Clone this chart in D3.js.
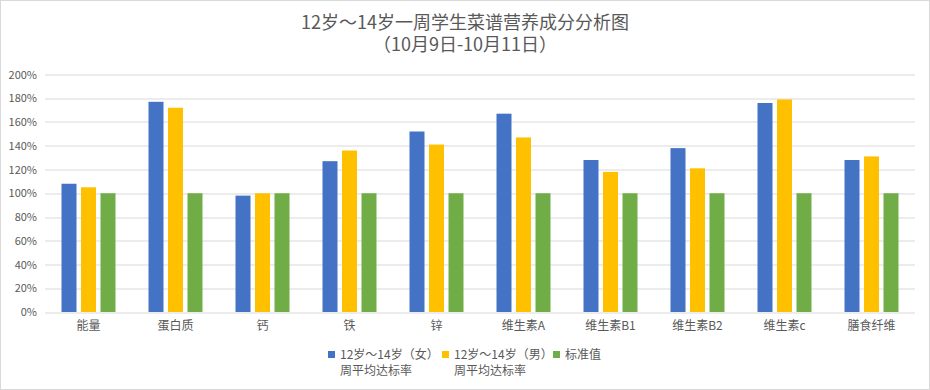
<!DOCTYPE html>
<html>
<head>
<meta charset="utf-8">
<script src="https://cdn.jsdelivr.net/npm/d3@7"></script>
<style>
  body { margin: 0; background: #fff; }
  text { font-family: "Microsoft YaHei", "Noto Sans CJK SC", sans-serif; fill: #595959; }
</style>
</head>
<body>
<div id="chart"></div>
<script>
// chart values
var categories = ["能量", "蛋白质", "钙", "铁", "锌", "维生素A", "维生素B1", "维生素B2", "维生素c", "膳食纤维"];
var girls = [1.08, 1.77, 0.98, 1.27, 1.52, 1.67, 1.28, 1.38, 1.76, 1.28];
var boys = [1.05, 1.72, 1.00, 1.36, 1.41, 1.47, 1.18, 1.21, 1.79, 1.31];
var standard = [1.00, 1.00, 1.00, 1.00, 1.00, 1.00, 1.00, 1.00, 1.00, 1.00];
var yTicks = [0, 0.2, 0.4, 0.6, 0.8, 1.0, 1.2, 1.4, 1.6, 1.8, 2.0];

var seriesNames = ["女", "男", "标准值"];
var colors = ["#4472c4", "#ffc000", "#70ad47"];

var svgWidth = 930;
var svgHeight = 390;

var margin = { top: 74.5, right: 15, bottom: 78, left: 45 };
var width = svgWidth - margin.left - margin.right;
var height = svgHeight - margin.top - margin.bottom;

var svg = d3.select("#chart")
  .append("svg")
  .attr("width", svgWidth)
  .attr("height", svgHeight);

// outer border
svg.append("rect")
  .attr("x", 0.5).attr("y", 0.5)
  .attr("width", svgWidth - 1).attr("height", svgHeight - 1)
  .attr("fill", "#fff")
  .attr("stroke", "#d9d9d9");

// title
var title = svg.append("text")
  .attr("text-anchor", "middle")
  .style("font-size", "18px");
title.append("tspan").attr("x", svgWidth / 2).attr("y", 29)
  .text("12岁～14岁一周学生菜谱营养成分分析图");
title.append("tspan").attr("x", svgWidth / 2).attr("y", 51)
  .text("（10月9日-10月11日）");

var chartGroup = svg.append("g")
  .attr("transform", `translate(${margin.left}, ${margin.top})`);

var xScale = d3.scaleBand()
  .domain(categories)
  .range([0, width]);

var yScale = d3.scaleLinear()
  .domain([0, 2])
  .range([height, 0]);

// bars sit inside each band: 3 bars of 15px with 4.5px gaps
var barW = 15;
var barStep = 19.5;
var groupW = barW * 3 + (barStep - barW) * 2;

// gridlines
chartGroup.append("g")
  .selectAll("line")
  .data(yTicks)
  .enter()
  .append("line")
  .attr("x1", 0)
  .attr("x2", width)
  .attr("y1", d => Math.round(yScale(d)) + 0.5)
  .attr("y2", d => Math.round(yScale(d)) + 0.5)
  .attr("stroke", "#d9d9d9")
  .attr("stroke-width", 1);

// y axis labels
var leftAxis = d3.axisLeft(yScale)
  .tickValues(yTicks)
  .tickFormat(d3.format(".0%"))
  .tickSize(0)
  .tickPadding(8);

var yAxis = chartGroup.append("g").call(leftAxis);
yAxis.select(".domain").remove();
yAxis.selectAll("text")
  .style("font-size", "11px")
  .style("font-family", "\"Microsoft YaHei\", \"Noto Sans CJK SC\", sans-serif")
  .attr("fill", "#595959");

// bars
var allSeries = [girls, boys, standard];
allSeries.forEach(function(values, i) {
  chartGroup.append("g")
    .selectAll("rect")
    .data(values)
    .enter()
    .append("rect")
    .attr("x", (d, j) => xScale(categories[j]) + (xScale.bandwidth() - groupW) / 2 + i * barStep)
    .attr("y", d => yScale(d))
    .attr("width", barW)
    .attr("height", d => height - yScale(d))
    .attr("fill", colors[i]);
});

// x axis labels
var bottomAxis = d3.axisBottom(xScale)
  .tickSize(0)
  .tickPadding(9);

var xAxis = chartGroup.append("g")
  .attr("transform", `translate(0, ${height})`)
  .call(bottomAxis);
xAxis.select(".domain").remove();
xAxis.selectAll("text")
  .style("font-size", "12px")
  .style("font-family", "\"Microsoft YaHei\", \"Noto Sans CJK SC\", sans-serif")
  .attr("fill", "#595959");

// legend
var legendItems = [
  { x: 328, lines: ["12岁～14岁（女）", "周平均达标率"] },
  { x: 442, lines: ["12岁～14岁（男）", "周平均达标率"] },
  { x: 553, lines: ["标准值"] }
];

var legend = svg.append("g");
legendItems.forEach(function(item, i) {
  legend.append("rect")
    .attr("x", item.x)
    .attr("y", 351)
    .attr("width", 7)
    .attr("height", 7)
    .attr("fill", colors[i]);
  var t = legend.append("text")
    .style("font-size", "12px");
  item.lines.forEach(function(line, k) {
    t.append("tspan")
      .attr("x", item.x + 12)
      .attr("y", 359 + k * 16)
      .text(line);
  });
});
</script>
</body>
</html>
